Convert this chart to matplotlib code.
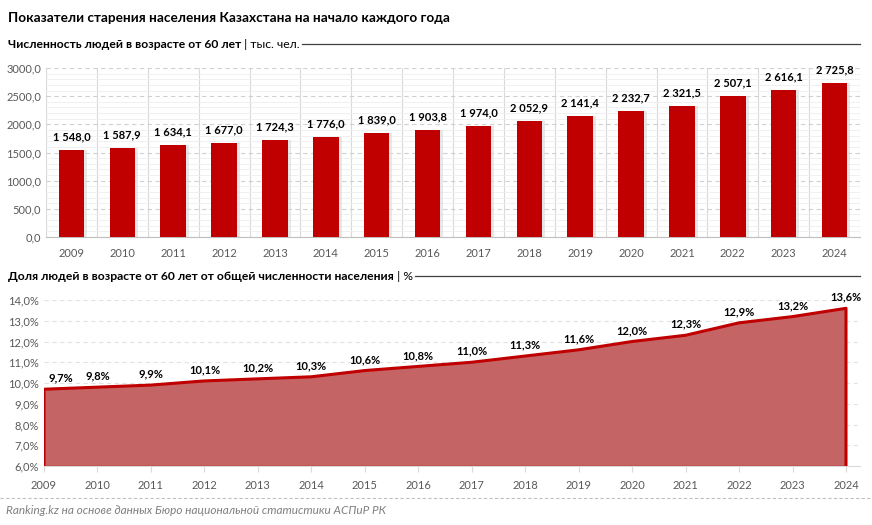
import matplotlib.pyplot as plt
import numpy as np

plt.rcParams["font.family"] = ["Lato", "DejaVu Sans"]

years = [2009, 2010, 2011, 2012, 2013, 2014, 2015, 2016,
         2017, 2018, 2019, 2020, 2021, 2022, 2023, 2024]
elderly = [1548.0, 1587.9, 1634.1, 1677.0, 1724.3, 1776.0, 1839.0, 1903.8,
           1974.0, 2052.9, 2141.4, 2232.7, 2321.5, 2507.1, 2616.1, 2725.8]
share = [9.7, 9.8, 9.9, 10.1, 10.2, 10.3, 10.6, 10.8,
         11.0, 11.3, 11.6, 12.0, 12.3, 12.9, 13.2, 13.6]

title = "Показатели старения населения Казахстана на начало каждого года"
sub1 = "Численность людей в возрасте от 60 лет"
sub1_unit = " | тыс. чел."
sub2 = "Доля людей в возрасте от 60 лет от общей численности населения"
sub2_unit = " | %"
source = "Ranking.kz на основе данных Бюро национальной статистики АСПиР РК"

RED = "#C00000"
FILL = "#C46464"
TICK = "#595959"
W, H = 872, 525


def fmt_num(v):
    s = f"{v:,.1f}".replace(",", " ").replace(".", ",")
    return s


fig = plt.figure(figsize=(W / 100, H / 100), dpi=100)


def px_axes(x0, y0, x1, y1):
    return fig.add_axes([x0 / W, 1 - y1 / H, (x1 - x0) / W, (y1 - y0) / H])


# headers
fig.text(8 / W, 1 - 18 / H, title, fontsize=9.8, fontweight="bold", va="center", ha="left")


def subtitle(y, bold, unit):
    t = fig.text(8 / W, 1 - y / H, bold, fontsize=8.7, fontweight="bold", va="center", ha="left")
    fig.canvas.draw()
    bb = t.get_window_extent()
    u = fig.text(bb.x1 / W, 1 - y / H, unit, fontsize=8.7, va="center", ha="left")
    fig.canvas.draw()
    bb2 = u.get_window_extent()
    fig.add_artist(plt.Line2D([bb2.x1 / W + 0.003, 860 / W], [1 - y / H, 1 - y / H],
                              color="#404040", lw=0.9, transform=fig.transFigure))


subtitle(44, sub1, sub1_unit)
subtitle(276, sub2, sub2_unit)

# top: bars
ax1 = px_axes(46, 68, 860, 237)
x = np.arange(len(years))
ax1.bar(x + 0.06, elderly, width=0.5, color="#d9d9d9", alpha=0.6, zorder=2)
ax1.bar(x, elderly, width=0.5, color=RED, zorder=3)
for xi, v in zip(x, elderly):
    ax1.annotate(fmt_num(v), (xi, v), xytext=(0, 5.5), textcoords="offset points",
                 ha="center", va="bottom", fontsize=8, fontweight="bold", color="black")
ax1.set_xlim(-0.5, len(years) - 0.5)
ax1.set_ylim(0, 3000)
ax1.set_yticks(np.arange(0, 3001, 500))
ax1.set_yticklabels([f"{v:.1f}".replace(".", ",") for v in np.arange(0, 3001, 500)])
ax1.set_yticks(np.arange(0, 3001, 100), minor=True)
ax1.set_xticks(x)
ax1.set_xticklabels([str(y) for y in years])
ax1.grid(axis="y", which="major", color="#d0d0d0", ls=(0, (4, 3)), lw=0.8, zorder=0)
ax1.grid(axis="y", which="minor", color="#eeeeee", ls="-", lw=0.6, zorder=0)
for b in np.arange(-0.5, len(years), 1.0):
    ax1.axvline(b, color="#d9d9d9", lw=0.8, zorder=1)
for s in ["top", "right", "left"]:
    ax1.spines[s].set_visible(False)
ax1.spines["bottom"].set_color("#bfbfbf")
ax1.tick_params(axis="both", which="both", length=0, colors=TICK, labelsize=8)
ax1.tick_params(axis="x", pad=8)

# bottom: area
ax2 = px_axes(44, 300, 860, 466)
ax2.fill_between(years, share, 6, color=FILL, lw=0, zorder=2)
ax2.plot([years[0]] + years + [years[-1]], [6] + share + [6], color=RED, lw=2.2, zorder=3,
         solid_joinstyle="round")
ax2.plot([years[0], years[-1]], [6, 6], color=RED, lw=1, zorder=3)
for i, (xi, v) in enumerate(zip(years, share)):
    dx = 12 if i == 0 else 0
    ax2.annotate(f"{v:.1f}%".replace(".", ","), (xi, v), xytext=(dx, 4), textcoords="offset points",
                 ha="center", va="bottom", fontsize=8, fontweight="bold", color="black", zorder=5)
ax2.set_xlim(years[0], years[0] + (years[-1] - years[0]) * (860 - 44) / (846 - 44))
ax2.set_ylim(6, 14)
ax2.set_yticks(np.arange(6, 14.1, 1))
ax2.set_yticklabels([f"{v:.1f}%".replace(".", ",") for v in np.arange(6, 14.1, 1)])
ax2.set_xticks(years)
ax2.set_xticklabels([str(y) for y in years])
ax2.grid(axis="y", color="#d0d0d0", ls=(0, (4, 3)), lw=0.8, zorder=4, alpha=0.6)
for s in ["top", "right", "left"]:
    ax2.spines[s].set_visible(False)
ax2.spines["bottom"].set_color("#d9d9d9")
ax2.tick_params(axis="y", length=0, colors=TICK, labelsize=8)
ax2.tick_params(axis="x", length=4, color="#d9d9d9", colors=TICK, labelsize=8, pad=6)
for lab in ax2.get_xticklabels():
    lab.set_color(TICK)

# footer
fig.add_artist(plt.Line2D([0, 1], [1 - 498 / H, 1 - 498 / H], color="#c0c0c0", lw=0.8,
                          ls=(0, (3, 2)), transform=fig.transFigure))
fig.text(6 / W, 1 - 510 / H, source, fontsize=8.5, style="italic", color="#7f7f7f",
         va="center", ha="left")

fig.savefig("out.png", dpi=100)
